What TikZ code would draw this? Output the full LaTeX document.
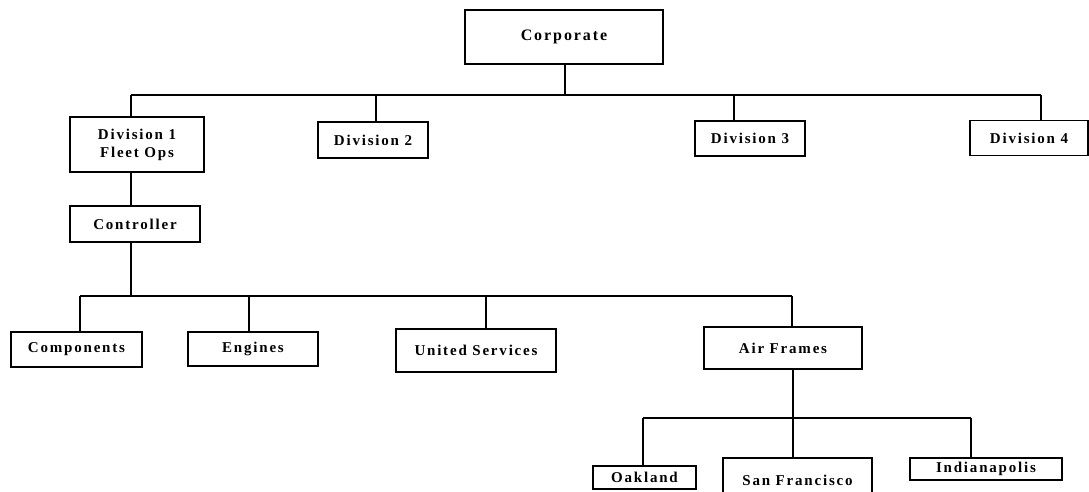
\documentclass[tikz,border=0pt]{standalone}
\usepackage{fontspec}
\setmainfont{Liberation Serif}[LetterSpace=12]
\begin{document}
\begin{tikzpicture}[x=1pt,y=-1pt,
  box/.style={draw=black, line width=1.8pt, fill=white, inner sep=0pt,
    font=\fontsize{15}{18}\selectfont\bfseries, align=center},
  link/.style={draw=black, line width=1.6pt}]
\useasboundingbox (0,0) rectangle (1089,491);
\clip (0,0) rectangle (1089,491);

% boxes
\node[box, minimum width=198, minimum height=54, font=\fontsize{16}{19}\selectfont\bfseries] (corp) at (564,37) {Corporate};
\node[box, minimum width=134, minimum height=55] (div1) at (137,144.5) {Division 1\\Fleet Ops};
\node[box, minimum width=110, minimum height=36] (div2) at (373,140) {Division 2};
\node[box, minimum width=110, minimum height=35] (div3) at (750,138.5) {Division 3};
\node[box, minimum width=118, minimum height=35] (div4) at (1029,138) {Division 4};
\node[box, minimum width=130, minimum height=36] (ctrl) at (135,224) {Controller};
\node[box, minimum width=131, minimum height=35] (comp) at (76.5,349.5) {Components};
\node[box, minimum width=130, minimum height=34] (eng) at (253,349) {Engines};
\node[box, minimum width=160, minimum height=43] (us) at (476,350.5) {United Services};
\node[box, minimum width=158, minimum height=42] (af) at (783,348) {Air Frames};
\node[box, minimum width=103, minimum height=23] (oak) at (644.5,477.5) {Oakland};
\node[box, minimum width=149, minimum height=44] (sf) at (797.5,480) {San Francisco};
\node[box, minimum width=152, minimum height=22] (ind) at (986,469) {Indianapolis};

% junction points on the three horizontal bars
\coordinate (b1c) at (565,95);
\coordinate (b1a) at (131,95);
\coordinate (b1b) at (376,95);
\coordinate (b1d) at (734,95);
\coordinate (b1e) at (1041,95);

\coordinate (b2c) at (131,296);
\coordinate (b2a) at (80,296);
\coordinate (b2b) at (249,296);
\coordinate (b2d) at (486,296);
\coordinate (b2e) at (792,296);

\coordinate (b3c) at (793,418);
\coordinate (b3a) at (643,418);
\coordinate (b3e) at (971,418);

% Corporate to divisions
\draw[link] (b1c |- corp.south) -- (b1c);
\draw[link] (b1a) -- (b1e);
\draw[link] (b1a) -- (b1a |- div1.north);
\draw[link] (b1b) -- (b1b |- div2.north);
\draw[link] (b1d) -- (b1d |- div3.north);
\draw[link] (b1e) -- (b1e |- div4.north);

% Division 1 to controller
\draw[link] (b1a |- div1.south) -- (b1a |- ctrl.north);

% Controller to units
\draw[link] (b2c |- ctrl.south) -- (b2c);
\draw[link] (b2a) -- (b2e);
\draw[link] (b2a) -- (b2a |- comp.north);
\draw[link] (b2b) -- (b2b |- eng.north);
\draw[link] (b2d) -- (b2d |- us.north);
\draw[link] (b2e) -- (b2e |- af.north);

% Air Frames to sites
\draw[link] (b3c |- af.south) -- (b3c);
\draw[link] (b3a) -- (b3e);
\draw[link] (b3a) -- (b3a |- oak.north);
\draw[link] (b3c) -- (b3c |- sf.north);
\draw[link] (b3e) -- (b3e |- ind.north);
\end{tikzpicture}
\end{document}
